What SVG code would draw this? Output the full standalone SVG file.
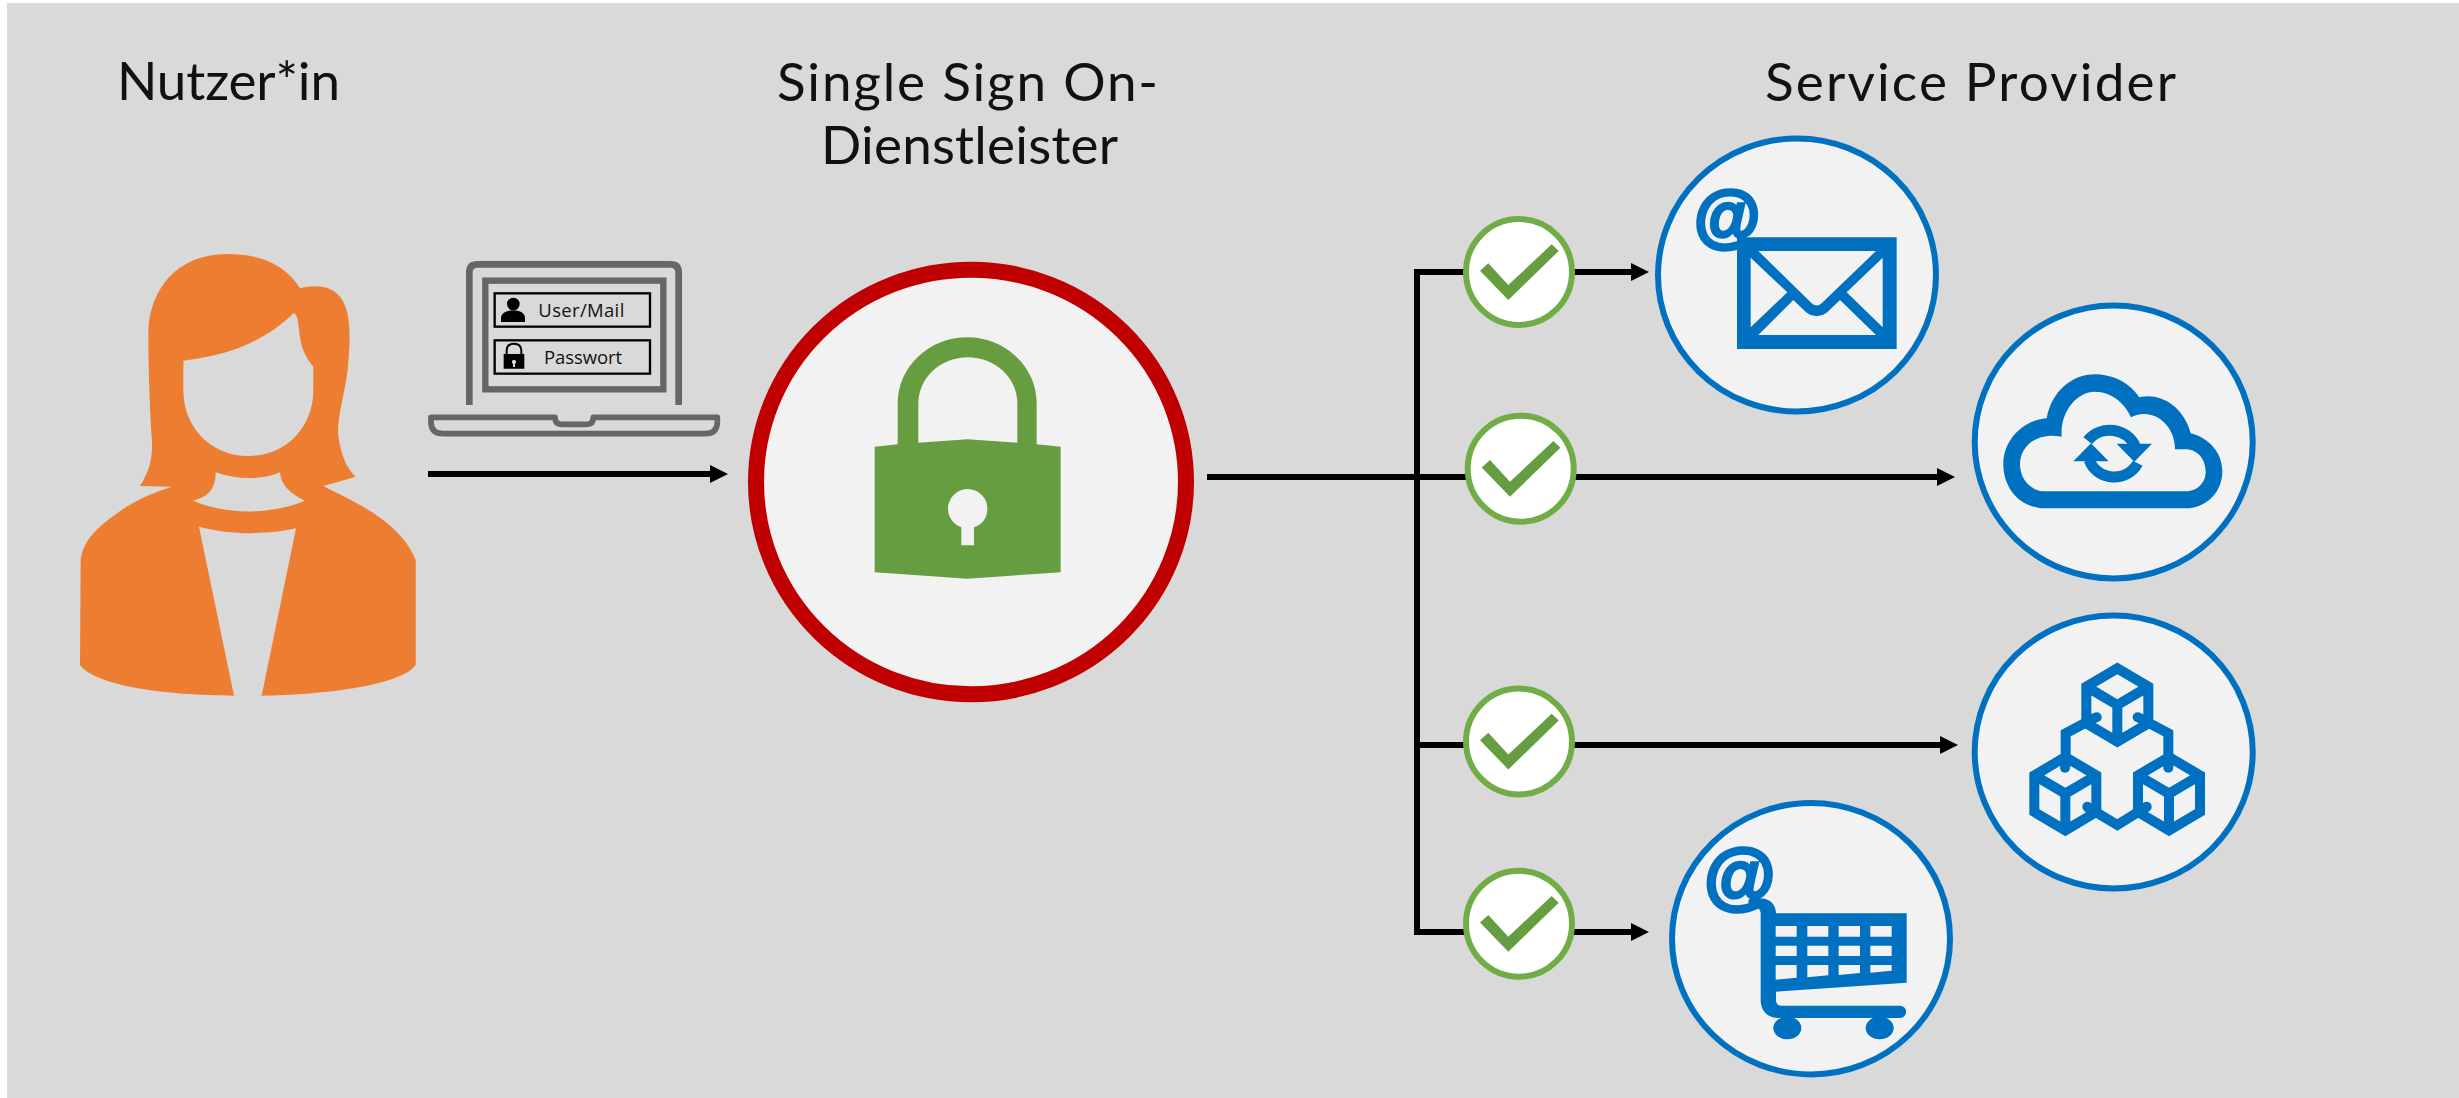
<svg xmlns="http://www.w3.org/2000/svg" xmlns:xlink="http://www.w3.org/1999/xlink" width="2459" height="1098" viewBox="0 0 2459 1098">
<style>
.title{font-family:"Lato","Open Sans","Liberation Sans",sans-serif;font-size:53px;font-weight:400;fill:#111}
.small{font-family:"Open Sans","Liberation Sans",sans-serif;font-size:18.5px;fill:#111}
.at{font-family:"Liberation Sans",Arial,sans-serif;font-weight:700;font-style:italic;fill:#0070C0;stroke:#0070C0;stroke-width:3.500}
.svc{fill:#F2F2F2;stroke:#0070C0;stroke-width:6}
.blue{fill:#0070C0;fill-rule:evenodd}
.conn{fill:none;stroke:#000;stroke-width:6}
.cube{fill:none;stroke:#0070C0;stroke-width:30}
.lap{fill:none;stroke:#666;stroke-linejoin:round}
.field{fill:none;stroke:#000;stroke-width:7}
</style>
<defs>
<marker id="head" markerUnits="userSpaceOnUse" markerWidth="18" markerHeight="18" viewBox="0 0 18 18" refX="1" refY="9" orient="auto"><path d="M0,0L18,9L0,18Z" fill="#000"/></marker>
<g id="check"><circle r="53" fill="#fff" stroke="#70AD47" stroke-width="6"/><path d="M-39,-1.3L-30.7,-8.7L-10.7,13L32.7,-27.7L39.7,-21L-10.7,28Z" fill="#669D40"/></g>
<g id="cubeShape"><path class="cube" d="M502,205L595,260V370L502,425L409,370V260ZM409,260L502,315L595,260M502,315V425"/></g>
</defs>
<rect x="7" y="3" width="2452" height="1095" fill="#D9D9D9"/>

<g id="connectors">
<path class="conn" d="M428,474H711" marker-end="url(#head)"/>
<path class="conn" d="M1207,477H1938" marker-end="url(#head)"/>
<path class="conn" d="M1417,270V935"/>
<path class="conn" d="M1414,272H1632" marker-end="url(#head)"/>
<path class="conn" d="M1417,745H1941" marker-end="url(#head)"/>
<path class="conn" d="M1414,932H1632" marker-end="url(#head)"/>
</g>

<g id="title-user"><text class="title" x="117" y="100" textLength="223" lengthAdjust="spacing">Nutzer*in</text></g>
<g id="title-sso"><text class="title" x="777" y="100.500" textLength="381" lengthAdjust="spacing">Single Sign On-</text><text class="title" x="821" y="164" textLength="297" lengthAdjust="spacing">Dienstleister</text></g>
<g id="title-sp"><text class="title" x="1765" y="100.500" textLength="411" lengthAdjust="spacing">Service Provider</text></g>

<g id="user" transform="translate(50,230) scale(.33333)">
<path fill="#ED7D31" fill-rule="evenodd" d="M90,1305L92,990C100,930 140,890 230,830C280,800 320,785 365,770L270,768C300,720 310,680 305,620C300,540 295,420 295,300C300,180 380,72 530,72C640,72 710,110 750,175C790,165 850,160 880,215C905,265 900,340 893,420C885,490 860,560 865,620C875,680 890,715 917,740L820,768C900,810 1050,870 1097,990V1305C1050,1370 800,1395 635,1397L738,895C650,915 540,915 447,890L552,1397C350,1395 140,1370 90,1305Z
M400,392C540,375 650,330 730,250C745,250 745,290 750,320C755,360 770,385 790,410V480C790,590 710,678 595,678C480,678 400,590 400,480Z
M497,727C560,750 640,750 690,727C692,760 715,790 765,812C660,855 530,855 430,812C480,800 497,770 497,727Z"/>
</g>

<g id="laptop">
<g transform="translate(410,240) scale(.33333)">
<path class="lap" stroke-width="20" stroke-linejoin="round" d="M178,495V97Q178,73 202,73H782Q806,73 806,97V495"/>
<rect class="lap" stroke-width="19" style="stroke-linejoin:miter" x="226" y="122" width="534" height="326"/>
<path class="lap" stroke-width="17" d="M63,532H435Q435,553 455,553H530Q550,553 550,532H922V545Q922,581 885,581H100Q63,581 63,545Z"/>
<rect class="field" x="254" y="160" width="466" height="100"/>
<rect class="field" x="254" y="301" width="466" height="100"/>
<circle cx="310" cy="192" r="19"/>
<path d="M273,246V234C273,220 290,211 310,211C330,211 345,220 345,234V246Z"/>
<path d="M290,342V332Q290,311 312,311Q334,311 334,332V342" fill="none" stroke="#000" stroke-width="6"/>
<path fill-rule="evenodd" d="M281,342H343V386H281ZM312,359a7,7 0 0 0-3,13V381H315V372a7,7 0 0 0-3-13Z"/>
</g>
<text class="small" x="538.300" y="316.700" textLength="86" lengthAdjust="spacing">User/Mail</text>
<text class="small" x="544" y="364" textLength="78" lengthAdjust="spacing">Passwort</text>
</g>

<g id="sso">
<ellipse cx="971" cy="482" rx="215" ry="212.300" fill="#F2F2F2" stroke="#C00000" stroke-width="16"/>
<path transform="translate(740,250) scale(.33333)" fill="#669D40" fill-rule="evenodd" d="M404,590L473,583V460A208.500,198 0 0 1 890,460V583L962,590V967L683,986L404,967Z
M535,578V460A148.500,138 0 0 1 832,460V578L683,568Z
M664,832V886H702V832C725,825 742,805 742,777A59,59 0 1 0 664,832Z"/>
</g>

<g id="check-1"><use xlink:href="#check" href="#check" x="1519" y="272"/></g>
<g id="check-2"><use xlink:href="#check" href="#check" x="1520.700" y="468.700"/></g>
<g id="check-3"><use xlink:href="#check" href="#check" x="1519" y="741.500"/></g>
<g id="check-4"><use xlink:href="#check" href="#check" x="1519" y="923.700"/></g>

<g id="service-mail">
<ellipse class="svc" cx="1797" cy="275" rx="139" ry="136.500"/>
<text class="at" x="1693" y="239.600" font-size="68">@</text>
<path class="blue" transform="translate(1640,120) scale(.33333)" d="M291,352H770V687H291Z
M355,393H708L545,550Q530,563 515,550Z
M332,413L442,517L332,622Z
M728,413L620,517L728,622Z
M355,645L460,540L500,578Q530,600 560,578L600,540L708,645Z"/>
</g>

<g id="service-cloud">
<ellipse class="svc" cx="2113.700" cy="442" rx="139" ry="136.500"/>
<g transform="translate(1950,290) scale(.33333)">
<path class="blue" d="M290,385C305,305 365,253 435,253C490,253 540,280 568,322C640,305 705,360 722,430C780,445 817,490 817,545C817,605 770,655 705,655H285C215,655 160,600 160,522C160,450 220,390 290,385Z
M335,440C330,365 380,305 435,305C485,305 525,340 543,382C605,350 675,400 675,478H710C745,480 767,510 767,545C767,580 740,604 705,604H285C245,604 210,570 210,522C210,470 260,425 335,440Z"/>
<path fill="#0070C0" d="M500,461H606L553,515ZM370,514H476L423,460Z"/>
<path fill="none" stroke="#0070C0" stroke-width="33" d="M413,452A82,76 0 0 1 556,470M418,510A78,72 0 0 0 563,520"/>
</g>
</g>

<g id="service-blocks">
<ellipse class="svc" cx="2113.700" cy="752" rx="139" ry="136.500"/>
<g transform="translate(1950,600) scale(.33333)">
<use xlink:href="#cubeShape" href="#cubeShape"/>
<use xlink:href="#cubeShape" href="#cubeShape" x="-156" y="266"/>
<use xlink:href="#cubeShape" href="#cubeShape" x="155" y="266"/>
<path class="cube" d="M437,352L347,400V500M565,352L655,400V500M410,620L502,675L590,620"/>
<g fill="#0070C0"><circle cx="440" cy="352" r="15"/><circle cx="563" cy="352" r="15"/><circle cx="345" cy="503" r="15"/><circle cx="655" cy="503" r="15"/><circle cx="412" cy="620" r="15"/><circle cx="590" cy="620" r="15"/></g>
</g>
</g>

<g id="service-shop">
<ellipse class="svc" cx="1811" cy="938.700" rx="139" ry="135.700"/>
<text class="at" x="1703" y="900.500" font-size="73">@</text>
<g transform="translate(1650,790) scale(.33333)">
<path class="blue" d="M300,325H330C360,325 378,345 378,370H770V578L378,605V630Q378,647 395,647H750A18,18 0 0 1 750,684H385C350,684 332,660 332,630V370C332,355 320,350 300,350Q290,335 300,325Z
M377,408H440V440H377ZM472,408H535V440H472ZM566,408H630V440H566ZM661,408H725V440H661Z
M377,467H440V498H377ZM472,467H535V498H472ZM566,467H630V498H566ZM661,467H725V498H661Z
M377,525H440V563L377,569ZM472,525H535V556L472,562ZM566,525H630V549L566,555ZM661,525H725V542L661,548Z"/>
<ellipse cx="412" cy="714" rx="42" ry="34" fill="#0070C0"/>
<ellipse cx="689" cy="714" rx="42" ry="34" fill="#0070C0"/>
</g>
</g>
</svg>
